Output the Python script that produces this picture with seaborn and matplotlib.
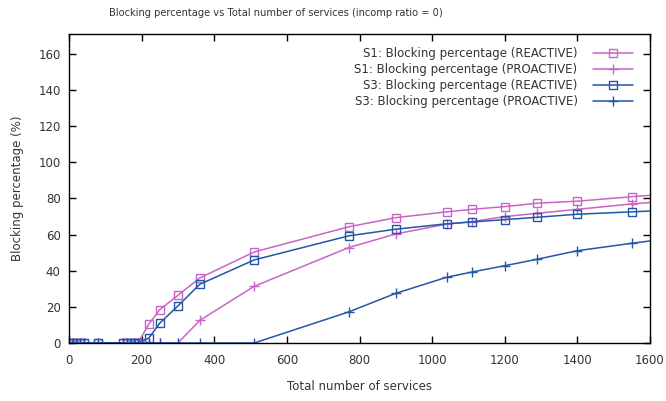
import matplotlib
import pandas as pd
import seaborn as sns

matplotlib.use("Agg")
import matplotlib.pyplot as plt

# Total number of services (last point lies past the axis limit, the curves run off the edge)
services = [0, 10, 20, 30, 40, 80, 150, 160, 170, 180, 190, 220, 250, 300, 360,
            510, 770, 900, 1040, 1110, 1200, 1290, 1400, 1550, 1650]

s1_reactive = [0, 0, 0, 0, 0, 0, 0, 0, 0, 0, 0, 10.5, 18.5, 26.4, 36, 50.4,
               64.3, 69.4, 72.6, 74, 75.5, 77.4, 78.5, 81, 82.5]
s1_proactive = [0, 0, 0, 0, 0, 0, 0, 0, 0, 0, 0, 0, 0, 0, 12.5, 31.4,
                52.8, 60.4, 65.8, 67.2, 70, 71.8, 74, 77, 78.5]
s3_reactive = [0, 0, 0, 0, 0, 0, 0, 0, 0, 0, 0, 2.8, 11, 20.5, 32.5, 46,
               59.3, 63, 66, 67, 68.3, 69.6, 71.3, 72.6, 73.5]
s3_proactive = [0, 0, 0, 0, 0, 0, 0, 0, 0, 0, 0, 0, 0, 0, 0, 0,
                17.2, 27.5, 36.4, 39.3, 42.8, 46.4, 51.1, 55.2, 57.8]

SERIES = [
    ("S1: Blocking percentage (REACTIVE)", s1_reactive, "#c865c8", "s", 5.5),
    ("S1: Blocking percentage (PROACTIVE)", s1_proactive, "#c865c8", "+", 7),
    ("S3: Blocking percentage (REACTIVE)", s3_reactive, "#2456a6", "s", 5.5),
    ("S3: Blocking percentage (PROACTIVE)", s3_proactive, "#2456a6", "+", 7),
]

sns.set_style("ticks")
plt.rcParams["font.family"] = ["DejaVu Sans"]
text_color = "#333333"

fig = plt.figure(figsize=(6.66, 4.01), dpi=100)
ax = fig.add_axes([0.1036, 0.1446, 0.8724, 0.7704])

for label, values, color, marker, msize in SERIES:
    df = pd.DataFrame({"services": services, "blocking": values})
    sns.lineplot(data=df, x="services", y="blocking", ax=ax, label=label,
                 color=color, marker=marker, markersize=msize,
                 markerfacecolor="none", markeredgecolor=color,
                 markeredgewidth=1.0, linewidth=1.1)

ax.set_xlim(0, 1600)
ax.set_ylim(0, 171)
ax.set_xticks(range(0, 1601, 200))
ax.set_yticks(range(0, 161, 20))
ax.tick_params(direction="in", top=True, right=True, length=5, width=1,
               labelsize=8.5, colors="black", labelcolor=text_color)
ax.tick_params(axis="x", pad=8)
ax.tick_params(axis="y", pad=6)
for spine in ax.spines.values():
    spine.set_color("black")
    spine.set_linewidth(1.0)

ax.set_xlabel("Total number of services", fontsize=8.5, color=text_color, labelpad=9)
ax.set_ylabel("Blocking percentage (%)", fontsize=8.5, color=text_color, labelpad=10)
ax.set_title("Blocking percentage vs Total number of services (incomp ratio = 0)",
             fontsize=7.1, color=text_color, pad=13, x=0.356)

ax.legend(loc="upper right", frameon=False, markerfirst=False, fontsize=8.5,
          labelcolor=text_color, handlelength=3.4, handletextpad=1.3,
          borderaxespad=0.3, labelspacing=0.25, bbox_to_anchor=(0.985, 0.985))
for txt in ax.get_legend().get_texts():
    txt.set_ha("right")
ax.get_legend()._legend_box.align = "right"

fig.savefig("out.png", dpi=100)
